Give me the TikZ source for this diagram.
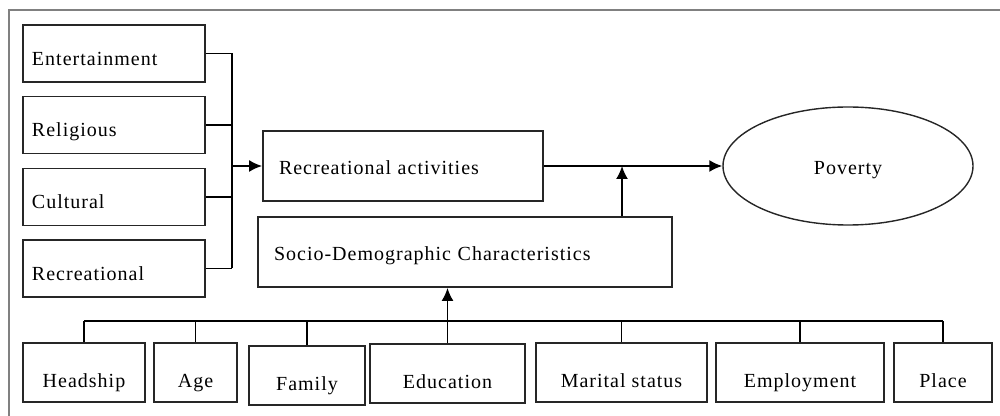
\documentclass[tikz,border=0pt]{standalone}
\usepackage{fontspec}
\setmainfont[LetterSpace=5]{Liberation Serif}
\usetikzlibrary{arrows.meta,shapes.geometric}
\tikzset{
  boxline/.style={draw=black!85,line width=0.9pt},
  sidebox/.style={boxline,align=left,text width=82pt,inner xsep=4.5pt,
    minimum height=28.5pt,text height=12pt,text depth=0pt},
  midbox/.style={boxline,align=left,inner xsep=8pt,
    minimum height=35pt,text height=9pt,text depth=0pt},
  factor/.style={boxline,inner xsep=0pt,minimum height=29.5pt,
    text height=15pt,text depth=0pt},
  link/.style={line width=0.9pt},
}
\begin{document}
\begin{tikzpicture}[x=0.5pt,y=-0.5pt,>={Latex[length=6.5pt,width=6pt]},font=\fontsize{10}{12}\selectfont]
    \useasboundingbox (0,0) rectangle (1000,416);
    \draw[black!50,line width=1pt] (9,416) -- (9,10) -- (1000,10);
    \node[sidebox] (ent) at (114,53.5) {Entertainment};
    \node[sidebox] (rel) at (114,125) {Religious};
    \node[sidebox] (cul) at (114,197) {Cultural};
    \node[sidebox] (rec) at (114,268.5) {Recreational};
    \node[midbox,text width=124pt] (ract) at (403,166) {Recreational activities};
    \node[midbox,text width=191pt] (socio) at (465,252) {Socio-Demographic Characteristics};
    \node[ellipse,draw=black!85,line width=0.7pt,inner sep=0pt,minimum width=125pt,
      minimum height=59pt,text height=9pt,text depth=0pt] (pov) at (848,166) {Poverty};
    \node[factor,minimum width=61pt] (head) at (84,372.5) {Headship};
    \node[factor,minimum width=41.5pt] (age) at (195.5,372.5) {Age};
    \node[factor,minimum width=58pt] (fam) at (307,375.5) {Family};
    \node[factor,minimum width=77.5pt] (edu) at (447.5,373.5) {Education};
    \node[factor,minimum width=85.5pt] (mar) at (621.5,372.5) {Marital status};
    \node[factor,minimum width=84pt] (emp) at (800,372.5) {Employment};
    \node[factor,minimum width=49pt] (pla) at (943,372.5) {Place};
    \coordinate (join) at (232,0);
    \coordinate (mid) at (622,0);
    \coordinate (bus) at (0,321);
    \foreach \b in {ent,rel,cul,rec}
      \draw[link] (\b.east) -- (\b.east -| join);
    \draw[link] (ent.east -| join) -- (rec.east -| join);
    \draw[link,->] (join |- ract.west) -- (ract.west);
    \draw[link,->] (ract.east) -- (ract.east -| pov.west);
    \draw[link,->] (socio.north -| mid) -- (ract.east -| mid);
    \draw[link] (head.north |- bus) -- (pla.north |- bus);
    \foreach \b in {head,age,fam,mar,emp,pla}
      \draw[link] (\b.north) -- (\b.north |- bus);
    \draw[link,->] (edu.north |- bus) -- (edu.north |- socio.south);
    \draw[link] (edu.north) -- (edu.north |- bus);
\end{tikzpicture}
\end{document}
